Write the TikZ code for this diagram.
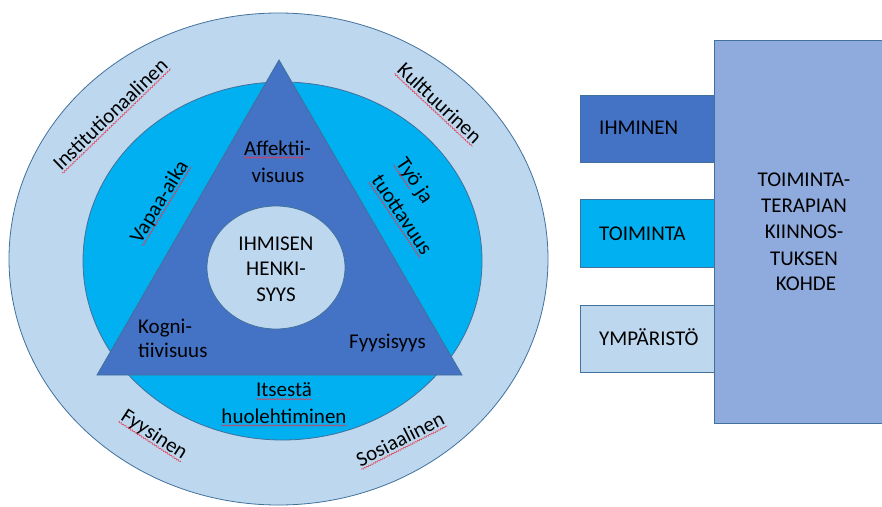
\documentclass[tikz,border=0pt]{standalone}
\usepackage{fontspec}
\setmainfont{Carlito}
\usetikzlibrary{shapes.geometric,decorations.pathmorphing,calc}
\definecolor{ringlight}{HTML}{BDD7EE}
\definecolor{ringmid}{HTML}{00B0F0}
\definecolor{tridark}{HTML}{4472C4}
\definecolor{boxbig}{HTML}{8FAADC}
\definecolor{edgeblue}{HTML}{41719C}
\definecolor{squigred}{HTML}{E8384F}
\newcommand\squigline[2]{%
  \path ($(#1.base west)!2.5pt!-90:(#1.base east)$) coordinate (#1-sa)
        ($(#1.base east)!2.5pt!90:(#1.base west)$) coordinate (#1-sb);
  \draw[wave] (#1-sa) -- ($(#1-sa)!#2!(#1-sb)$);}
\begin{document}
\begin{tikzpicture}[x=1pt,y=-1pt,
  shapeline/.style={draw=edgeblue,line width=0.8pt},
  ell/.style={shapeline,ellipse,inner sep=0pt},
  box/.style={shapeline,rectangle,inner sep=0pt,anchor=north west},
  lab/.style={font=\fontsize{21}{26}\selectfont,inner sep=0pt,text=black},
  wave/.style={draw=squigred,line width=0.5pt,decorate,decoration={snake,amplitude=0.7pt,segment length=2.6pt}},
]
\useasboundingbox (0,0) rectangle (882,506);

% rings
\node[ell,fill=ringlight,minimum width=539pt,minimum height=492pt] (outer) at (278.5,259) {};
\node[ell,fill=ringmid,minimum width=399pt,minimum height=358pt] (middle) at (282.5,261) {};
\coordinate (tA) at (279,60);
\coordinate (tL) at (97,375);
\coordinate (tR) at (462,375);
\draw[shapeline,fill=tridark] (tA) -- (tL) -- (tR) -- cycle;
\node[ell,fill=ringlight,minimum width=138pt,minimum height=123pt] (inner) at (276,267.5) {};

% core text
\node[lab,anchor=base] (core1) at (276,250) {IHMISEN};
\node[lab,anchor=base] (core2) at (276,275.5) {HENKI-};
\node[lab,anchor=base] (core3) at (276,301) {SYYS};

% triangle texts
\node[lab,anchor=base] (aff1) at (277.5,155) {Affektii-};
\node[lab,anchor=base] (aff2) at (278,182) {visuus};
\node[lab,anchor=base west] (kog1) at (138,333.5) {Kogni-};
\node[lab,anchor=base west] (kog2) at (138,357.5) {tiivisuus};
\node[lab,anchor=base west] (fyy) at (349,348) {Fyysisyys};

% middle ring texts
\node[lab,anchor=base] (its1) at (284,396.7) {Itsestä};
\node[lab,anchor=base] (its2) at (284,423) {huolehtiminen};
\node[lab,rotate=58.5] (vap) at (160,202) {Vapaa-aika};
\node[lab,rotate=-56] (tyo1) at (414,181) {Työ ja};
\node[lab,rotate=-56] (tyo2) at (402,215) {tuottavuus};

% outer ring texts
\node[lab,rotate=44] (inst) at (110,114) {Institutionaalinen};
\node[lab,rotate=-43] (kult) at (440,103) {Kulttuurinen};
\node[lab,rotate=-33] (fyys) at (154,435) {Fyysinen};
\node[lab,rotate=27] (sos) at (400,439) {Sosiaalinen};

% spelling squiggles
\squigline{aff1}{0.906}
\squigline{its1}{1}
\squigline{its2}{1}
\squigline{vap}{1}
\squigline{tyo1}{0.6}
\squigline{tyo2}{1}
\squigline{inst}{1}
\squigline{kult}{1}
\squigline{fyys}{1}
\squigline{sos}{1}

% right side boxes
\node[box,fill=tridark,minimum width=134pt,minimum height=67pt] (ihm) at (580,95) {};
\node[box,fill=ringmid,minimum width=134pt,minimum height=68pt] (toi) at (580,199) {};
\node[box,fill=ringlight,minimum width=134pt,minimum height=67pt] (ymp) at (580,305) {};
\node[box,fill=boxbig,minimum width=167.5pt,minimum height=383pt] (kohde) at (714,40) {};

\node[lab,anchor=base west] (ihmL) at (599,134.3) {IHMINEN};
\node[lab,anchor=base west] (toiL) at (599,240) {TOIMINTA};
\node[lab,anchor=base west] (ympL) at (599,345) {YMPÄRISTÖ};

\node[lab,anchor=base] (k1) at (804,186.7) {TOIMINTA-};
\node[lab,anchor=base] (k2) at (804,212.7) {TERAPIAN};
\node[lab,anchor=base] (k3) at (804,238.3) {KIINNOS-};
\node[lab,anchor=base] (k4) at (804,265) {TUKSEN};
\node[lab,anchor=base] (k5) at (806,290.7) {KOHDE};
\end{tikzpicture}
\end{document}
